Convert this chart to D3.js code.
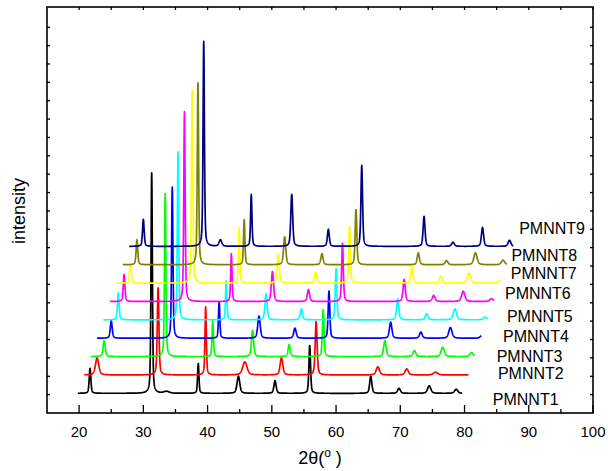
<!DOCTYPE html>
<html>
<head>
<meta charset="utf-8">
<script src="https://cdn.jsdelivr.net/npm/d3@7"></script>
<style>
  html, body { margin: 0; padding: 0; background: #fff; }
  svg { display: block; font-family: "Liberation Sans", Arial, sans-serif; }
</style>
</head>
<body>
<svg id="chart" width="608" height="471"></svg>
<script>
// Sample names, drawn bottom to top
const samples = ["PMNNT1", "PMNNT2", "PMNNT3", "PMNNT4", "PMNNT5", "PMNNT6", "PMNNT7", "PMNNT8", "PMNNT9"];
const colors = ["#000000", "#ff0000", "#00ff00", "#0000ff", "#00ffff", "#ff00ff", "#ffff00", "#808000", "#000080"];

// Reflections of each pattern: 2θ position (deg), height (a.u.), FWHM (deg)
const peakPos = [
  [21.7, 31.3, 33.6, 38.55, 44.8, 50.5, 55.9, 65.4, 69.8, 74.5, 78.7],
  [21.8, 31.3, 38.7, 44.8, 50.5, 55.9, 65.5, 70.0, 74.5],
  [21.9, 31.4, 38.8, 45.0, 50.7, 56.0, 65.6, 70.2, 74.6, 79.1],
  [22.0, 31.5, 38.8, 45.0, 50.6, 55.9, 65.5, 70.2, 74.8, 79.7],
  [22.1, 31.4, 38.9, 45.1, 50.6, 56.0, 65.6, 70.1, 74.5, 79.2],
  [22.0, 31.4, 38.7, 45.1, 50.7, 56.0, 65.6, 70.2, 74.8, 79.2],
  [22.0, 31.6, 38.9, 45.0, 50.8, 56.1, 65.8, 70.3, 74.7, 79.5],
  [22.0, 31.5, 38.7, 45.0, 50.8, 56.1, 65.8, 70.2, 74.7, 79.0],
  [22.0, 31.4, 34.0, 38.8, 45.1, 50.8, 56.0, 65.7, 70.2, 74.8, 79.0]
];
const peakHeight = [
  [1.36, 12.0, 0.10, 1.63, 0.93, 0.69, 2.60, 0.93, 0.27, 0.41, 0.22],
  [0.93, 4.74, 3.70, 0.71, 0.93, 2.90, 0.44, 0.33, 0.15],
  [0.87, 8.87, 1.96, 1.42, 0.65, 2.56, 0.87, 0.33, 0.51, 0.22],
  [0.95, 8.22, 1.96, 1.20, 0.55, 2.56, 0.87, 0.33, 0.58, 0.15],
  [1.47, 9.15, 2.12, 1.42, 0.60, 2.78, 1.14, 0.33, 0.60, 0.15],
  [1.47, 10.34, 2.61, 1.63, 0.65, 3.16, 1.20, 0.33, 0.55, 0.15],
  [0.98, 10.50, 3.00, 1.58, 0.60, 3.10, 0.93, 0.38, 0.55, 0.15],
  [1.36, 9.90, 2.45, 1.52, 0.60, 3.00, 0.65, 0.22, 0.65, 0.25],
  [1.47, 11.16, 0.35, 2.83, 2.83, 0.93, 4.41, 1.63, 0.22, 1.03, 0.33]
];
const peakWidth = [
  [0.30, 0.25, 1.00, 0.25, 0.50, 0.40, 0.30, 0.40, 0.50, 0.60, 0.60],
  [0.60, 0.30, 0.25, 0.80, 0.50, 0.35, 0.60, 0.60, 0.80],
  [0.40, 0.25, 0.25, 0.40, 0.40, 0.30, 0.45, 0.50, 0.60, 0.60],
  [0.35, 0.25, 0.25, 0.45, 0.45, 0.30, 0.45, 0.50, 0.60, 0.60],
  [0.30, 0.25, 0.25, 0.40, 0.40, 0.30, 0.40, 0.50, 0.60, 0.60],
  [0.30, 0.25, 0.25, 0.40, 0.40, 0.30, 0.40, 0.50, 0.60, 0.60],
  [0.35, 0.25, 0.25, 0.40, 0.40, 0.30, 0.40, 0.50, 0.60, 0.60],
  [0.30, 0.25, 0.25, 0.40, 0.40, 0.30, 0.40, 0.50, 0.60, 0.60],
  [0.30, 0.25, 0.50, 0.25, 0.35, 0.35, 0.30, 0.35, 0.50, 0.40, 0.50]
];

// Scan range of every pattern and the waterfall offsets between patterns
const scanRange = [19.8, 79.6];
const scanStep = 0.02;
const baseLevel = 1.07;
const offsetX = 1.0;
const offsetY = 1.0;

// Axis ticks
const xMajorTicks = [20, 30, 40, 50, 60, 70, 80, 90, 100];
const xMinorTicks = [25, 35, 45, 55, 65, 75, 85, 95];
const yTicks = d3.range(1, 22);

// Sample label anchors (2θ, intensity)
const labelX = [84.4, 85.2, 85.0, 86.0, 86.6, 86.3, 87.2, 87.3, 88.5];
const labelY = [0.76, 2.18, 3.10, 4.15, 5.28, 6.53, 7.62, 8.60, 10.05];

const svg = d3.select("#chart");
const frame = { left: 47, top: 7, right: 593, bottom: 413 };

const x = d3.scaleLinear().domain([15, 100]).range([frame.left, frame.right]);
const y = d3.scaleLinear().domain([0, 22.1]).range([frame.bottom, frame.top]);

// Pseudo-Voigt reflection profile
function profile(t, c, h, w) {
  const u = (t - c) / (w / 2);
  const lor = 1 / (1 + u * u);
  const gau = Math.exp(-Math.LN2 * u * u);
  return h * (0.45 * lor + 0.55 * gau);
}

const grid = d3.range(scanRange[0], scanRange[1] + 1e-9, scanStep);
const patterns = samples.map((name, i) => grid.map(t => {
  let v = 0;
  peakPos[i].forEach((c, k) => { v += profile(t, c, peakHeight[i][k], peakWidth[i][k]); });
  return [t + i * offsetX, baseLevel + i * offsetY + v];
}));

const line = d3.line().x(d => x(d[0])).y(d => y(d[1]));

const plot = svg.append("g");
patterns.forEach((pts, i) => {
  plot.append("path")
    .attr("d", line(pts))
    .attr("fill", "none")
    .attr("stroke", colors[i])
    .attr("stroke-width", 1.7)
    .attr("stroke-linejoin", "round");
});

// Sample labels
svg.append("g").selectAll("text").data(samples).join("text")
  .attr("x", (d, i) => x(labelX[i]))
  .attr("y", (d, i) => y(labelY[i]))
  .attr("dy", "0.35em")
  .attr("font-size", 16)
  .attr("fill", "#000")
  .text(d => d);

// Frame
const axes = svg.append("g").attr("stroke", "#000").attr("fill", "none");
axes.append("rect")
  .attr("x", frame.left).attr("y", frame.top)
  .attr("width", frame.right - frame.left).attr("height", frame.bottom - frame.top)
  .attr("stroke-width", 1.6);

// Bottom ticks (inward), top ticks (inward)
xMajorTicks.forEach(v => {
  axes.append("line").attr("x1", x(v)).attr("x2", x(v)).attr("y1", frame.bottom).attr("y2", frame.bottom - 8).attr("stroke-width", 1.3);
  axes.append("line").attr("x1", x(v)).attr("x2", x(v)).attr("y1", frame.top).attr("y2", frame.top + 3).attr("stroke-width", 1.3);
});
xMinorTicks.forEach(v => {
  axes.append("line").attr("x1", x(v)).attr("x2", x(v)).attr("y1", frame.bottom).attr("y2", frame.bottom - 4).attr("stroke-width", 1.3);
  axes.append("line").attr("x1", x(v)).attr("x2", x(v)).attr("y1", frame.top).attr("y2", frame.top + 3).attr("stroke-width", 1.3);
});
// Left and right ticks (inward)
yTicks.forEach(v => {
  axes.append("line").attr("x1", frame.left).attr("x2", frame.left + 3).attr("y1", y(v)).attr("y2", y(v)).attr("stroke-width", 1.3);
  axes.append("line").attr("x1", frame.right).attr("x2", frame.right - 3).attr("y1", y(v)).attr("y2", y(v)).attr("stroke-width", 1.3);
});

// Tick labels
svg.append("g").selectAll("text").data(xMajorTicks).join("text")
  .attr("x", d => x(d))
  .attr("y", 437)
  .attr("text-anchor", "middle")
  .attr("font-size", 15)
  .text(d => d);

// Axis titles
const xt = svg.append("text")
  .attr("x", x(57.5))
  .attr("y", 464)
  .attr("text-anchor", "middle")
  .attr("font-size", 18);
xt.append("tspan").text("2θ(");
xt.append("tspan").attr("dy", -7).attr("font-size", 12).text("o");
xt.append("tspan").attr("dy", 7).text(" )");

svg.append("text")
  .attr("transform", "translate(25," + y(11) + ") rotate(-90)")
  .attr("text-anchor", "middle")
  .attr("font-size", 18)
  .text("intensity");
</script>
</body>
</html>
